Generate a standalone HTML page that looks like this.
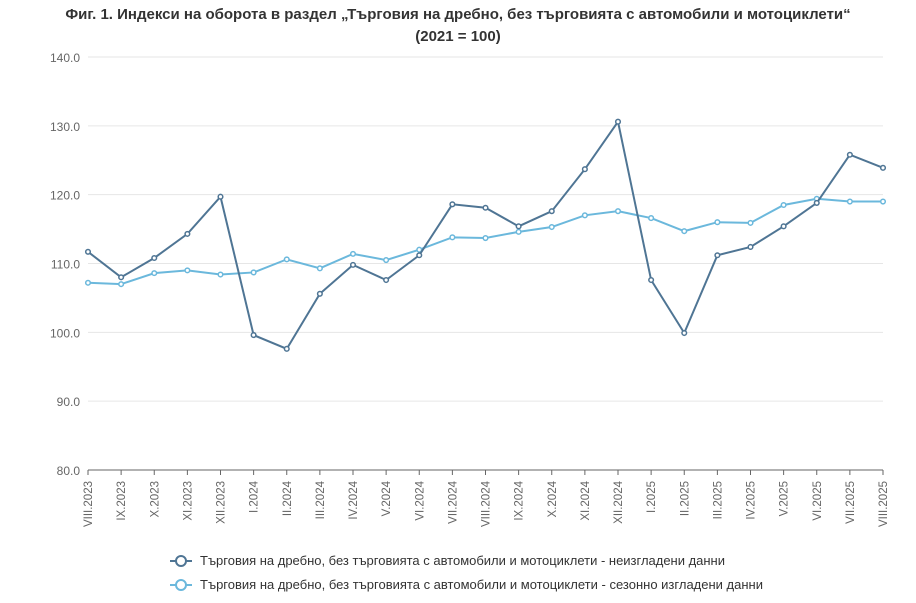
<!DOCTYPE html>
<html><head><meta charset="utf-8"><style>
body{margin:0;background:#fff;}
svg{display:block;font-family:"Liberation Sans",sans-serif;}
</style></head><body>
<svg id="s" width="916" height="603" xmlns="http://www.w3.org/2000/svg">
<text x="458" y="19" text-anchor="middle" font-size="15" font-weight="bold" fill="#333">Фиг. 1. Индекси на оборота в раздел „Търговия на дребно, без търговията с автомобили и мотоциклети“</text>
<text x="458" y="41" text-anchor="middle" font-size="15" font-weight="bold" fill="#333">(2021 = 100)</text>
</svg>
<script>
var s=document.getElementById('s'),ns='http://www.w3.org/2000/svg';
function el(t,a,txt){var e=document.createElementNS(ns,t);for(var k in a)e.setAttribute(k,a[k]);if(txt)e.textContent=txt;s.appendChild(e);return e;}
var x0=88,x1=883,yT=57,yB=470;
function Y(v){return yB-(v-80)*(yB-yT)/60;}
for(var v=80;v<=140;v+=10){var y=Y(v);if(v>80)el('line',{x1:x0,x2:x1,y1:y,y2:y,stroke:'#e6e6e6'});el('text',{x:80,y:y+5,'text-anchor':'end','font-size':12,fill:'#666'},v.toFixed(1));}
el('line',{x1:x0,x2:x1,y1:yB,y2:yB,stroke:'#666'});
var labs=['VIII.2023','IX.2023','X.2023','XI.2023','XII.2023','I.2024','II.2024','III.2024','IV.2024','V.2024','VI.2024','VII.2024','VIII.2024','IX.2024','X.2024','XI.2024','XII.2024','I.2025','II.2025','III.2025','IV.2025','V.2025','VI.2025','VII.2025','VIII.2025'];
var dx=(x1-x0)/24;
labs.forEach(function(l,i){var x=x0+i*dx;el('line',{x1:x,x2:x,y1:yB,y2:yB+5,stroke:'#666'});el('text',{transform:'translate('+(x+4)+',481) rotate(-90)','text-anchor':'end','font-size':11.5,fill:'#666'},l);});
var a=[111.7,108.0,110.8,114.3,119.7,99.6,97.6,105.6,109.8,107.6,111.2,118.6,118.1,115.4,117.6,123.7,130.6,107.6,99.9,111.2,112.4,115.4,118.8,125.8,123.9];
var b=[107.2,107.0,108.6,109.0,108.4,108.7,110.6,109.3,111.4,110.5,112.0,113.8,113.7,114.6,115.3,117.0,117.6,116.6,114.7,116.0,115.9,118.5,119.4,119.0,119.0];
function ser(d,c){el('polyline',{points:d.map(function(v,i){return (x0+i*dx)+','+Y(v)}).join(' '),fill:'none',stroke:c,'stroke-width':2});d.forEach(function(v,i){el('circle',{cx:x0+i*dx,cy:Y(v),r:2.3,fill:'#fff',stroke:c,'stroke-width':1.5});});}
ser(b,'#6bb8dc');ser(a,'#4f7594');
function leg(y,c,t,w){el('line',{x1:170,x2:192,y1:y,y2:y,stroke:c,'stroke-width':2});el('circle',{cx:181,cy:y,r:5,fill:'#fff',stroke:c,'stroke-width':2});el('text',{x:200,y:y+4,'font-size':13,fill:'#333',textLength:w},t);}
leg(561,'#4f7594','Търговия на дребно, без търговията с автомобили и мотоциклети - неизгладени данни',525);
leg(585,'#6bb8dc','Търговия на дребно, без търговията с автомобили и мотоциклети - сезонно изгладени данни',563);
</script>
</body></html>
